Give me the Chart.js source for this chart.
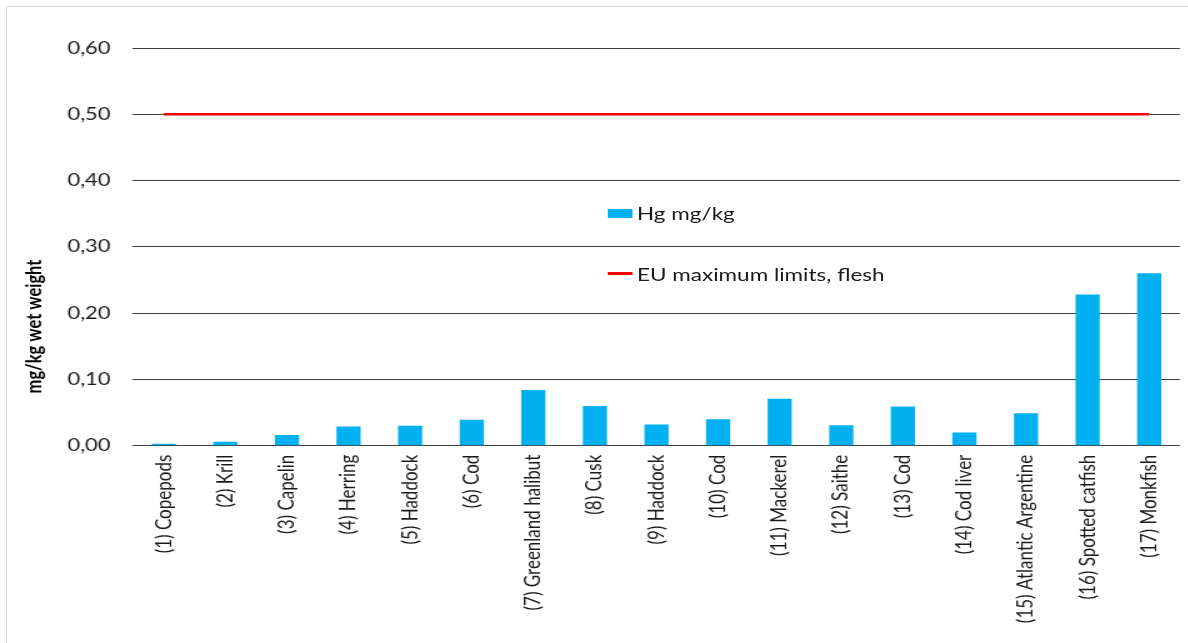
<!DOCTYPE html>
<html>
<head>
<meta charset="utf-8">
<title>Hg mg/kg wet weight</title>
<script src="https://cdn.jsdelivr.net/npm/chart.js@4.4.1/dist/chart.umd.min.js"></script>
<style>
  html, body { margin: 0; padding: 0; background: #fff; overflow: hidden; }
  body { width: 1188px; height: 643px; position: relative; font-family: Lato, sans-serif; }
  #frame { position: absolute; left: 6px; top: 6px; width: 1220px; height: 700px; border: 1px solid #d9d9d9; box-sizing: border-box; }
  /* the reference is a horizontally stretched picture, so the whole chart is stretched too */
  #stretch { position: absolute; left: 0; top: 0; width: 950.4px; height: 643px; transform: scaleX(1.25); transform-origin: 0 0; }
  #legend .mark { position: absolute; }
  #legend .text { position: absolute; font-size: 18px; line-height: 20px; color: #1a1a1a; white-space: nowrap; }
</style>
</head>
<body>
<div id="frame"></div>
<div id="stretch">
  <canvas id="hg-chart"></canvas>
  <div id="legend"></div>
</div>
<script>
const categories = [
  "(1) Copepods", "(2) Krill", "(3) Capelin", "(4) Herring", "(5) Haddock",
  "(6) Cod", "(7) Greenland halibut", "(8) Cusk", "(9) Haddock", "(10) Cod",
  "(11) Mackerel", "(12) Saithe", "(13) Cod", "(14) Cod liver",
  "(15) Atlantic Argentine", "(16) Spotted catfish", "(17) Monkfish"
];
const hgValues = [
  0.003, 0.006, 0.016, 0.029, 0.030, 0.039, 0.084, 0.060, 0.032,
  0.040, 0.071, 0.031, 0.059, 0.020, 0.049, 0.228, 0.260
];
const euLimit = [
  0.50, 0.50, 0.50, 0.50, 0.50, 0.50, 0.50, 0.50, 0.50,
  0.50, 0.50, 0.50, 0.50, 0.50, 0.50, 0.50, 0.50
];
const seriesNames = ["Hg mg/kg", "EU maximum limits, flesh"];
const yTitle = "mg/kg wet weight";
const yMin = 0;
const yMax = 0.6;
const yStep = 0.1;

Chart.defaults.font.family = "Lato, sans-serif";
Chart.defaults.color = "#1a1a1a";

// rotated axis title sits lower than the plot centre in the reference
const yTitlePlugin = {
  id: "yTitle",
  afterDraw(chart) {
    const ctx = chart.ctx;
    ctx.save();
    ctx.translate(27.2, 326.5);
    ctx.rotate(-Math.PI / 2);
    ctx.font = "bold 16.5px Lato, sans-serif";
    ctx.fillStyle = "#000";
    ctx.textAlign = "center";
    ctx.textBaseline = "middle";
    ctx.fillText(yTitle, 0, 0);
    ctx.restore();
  },
};

const chart = new Chart(document.querySelector("#hg-chart"), {
  data: {
    labels: categories,
    datasets: [
      {
        type: "line",
        label: seriesNames[1],
        data: euLimit,
        borderColor: "#ff0000",
        borderWidth: 2.5,
        pointRadius: 0,
        order: 0,
      },
      {
        type: "bar",
        label: seriesNames[0],
        data: hgValues,
        backgroundColor: "#00b0f0",
        categoryPercentage: 0.8,
        barPercentage: 0.49,
        order: 1,
      },
    ],
  },
  options: {
    responsive: true,
    maintainAspectRatio: false,
    animation: false,
    layout: { padding: { left: 8, right: 6.4, top: 48, bottom: 0 } },
    plugins: {
      legend: { display: false },
      tooltip: { enabled: false },
    },
    scales: {
      x: {
        grid: { display: false, drawTicks: false },
        border: { display: true, color: "#404040", width: 1 },
        ticks: {
          minRotation: 90,
          maxRotation: 90,
          autoSkip: false,
          padding: 9,
          color: "#1a1a1a",
          font: { size: 17 },
        },
        afterFit(scale) {
          scale.height = 197.3;
        },
      },
      y: {
        min: yMin,
        max: yMax,
        grid: { color: "#404040", lineWidth: 1, drawTicks: false },
        border: { display: false },
        ticks: {
          stepSize: yStep,
          padding: 18,
          color: "#1a1a1a",
          font: { size: 17.5 },
          callback: (v) => v.toFixed(2).replace(".", ","),
        },
        afterFit(scale) {
          scale.width = 98.4;
        },
      },
    },
  },
  plugins: [yTitlePlugin],
});

// legend placed inside the plot like the reference
const legend = document.querySelector("#legend");
const legendItems = [
  { ds: chart.data.datasets[1], markTop: 209, markHeight: 8.7, textTop: 202.6 },
  { ds: chart.data.datasets[0], markTop: 272, markHeight: 2.5, textTop: 263.6 },
];
legendItems.forEach((item) => {
  const color = item.ds.type === "bar" ? item.ds.backgroundColor : item.ds.borderColor;
  legend.insertAdjacentHTML(
    "beforeend",
    `<div class="mark" style="left:486.4px;top:${item.markTop}px;width:19.2px;height:${item.markHeight}px;background:${color}"></div>
     <div class="text" style="left:509.6px;top:${item.textTop}px">${item.ds.label}</div>`
  );
});
</script>
</body>
</html>
